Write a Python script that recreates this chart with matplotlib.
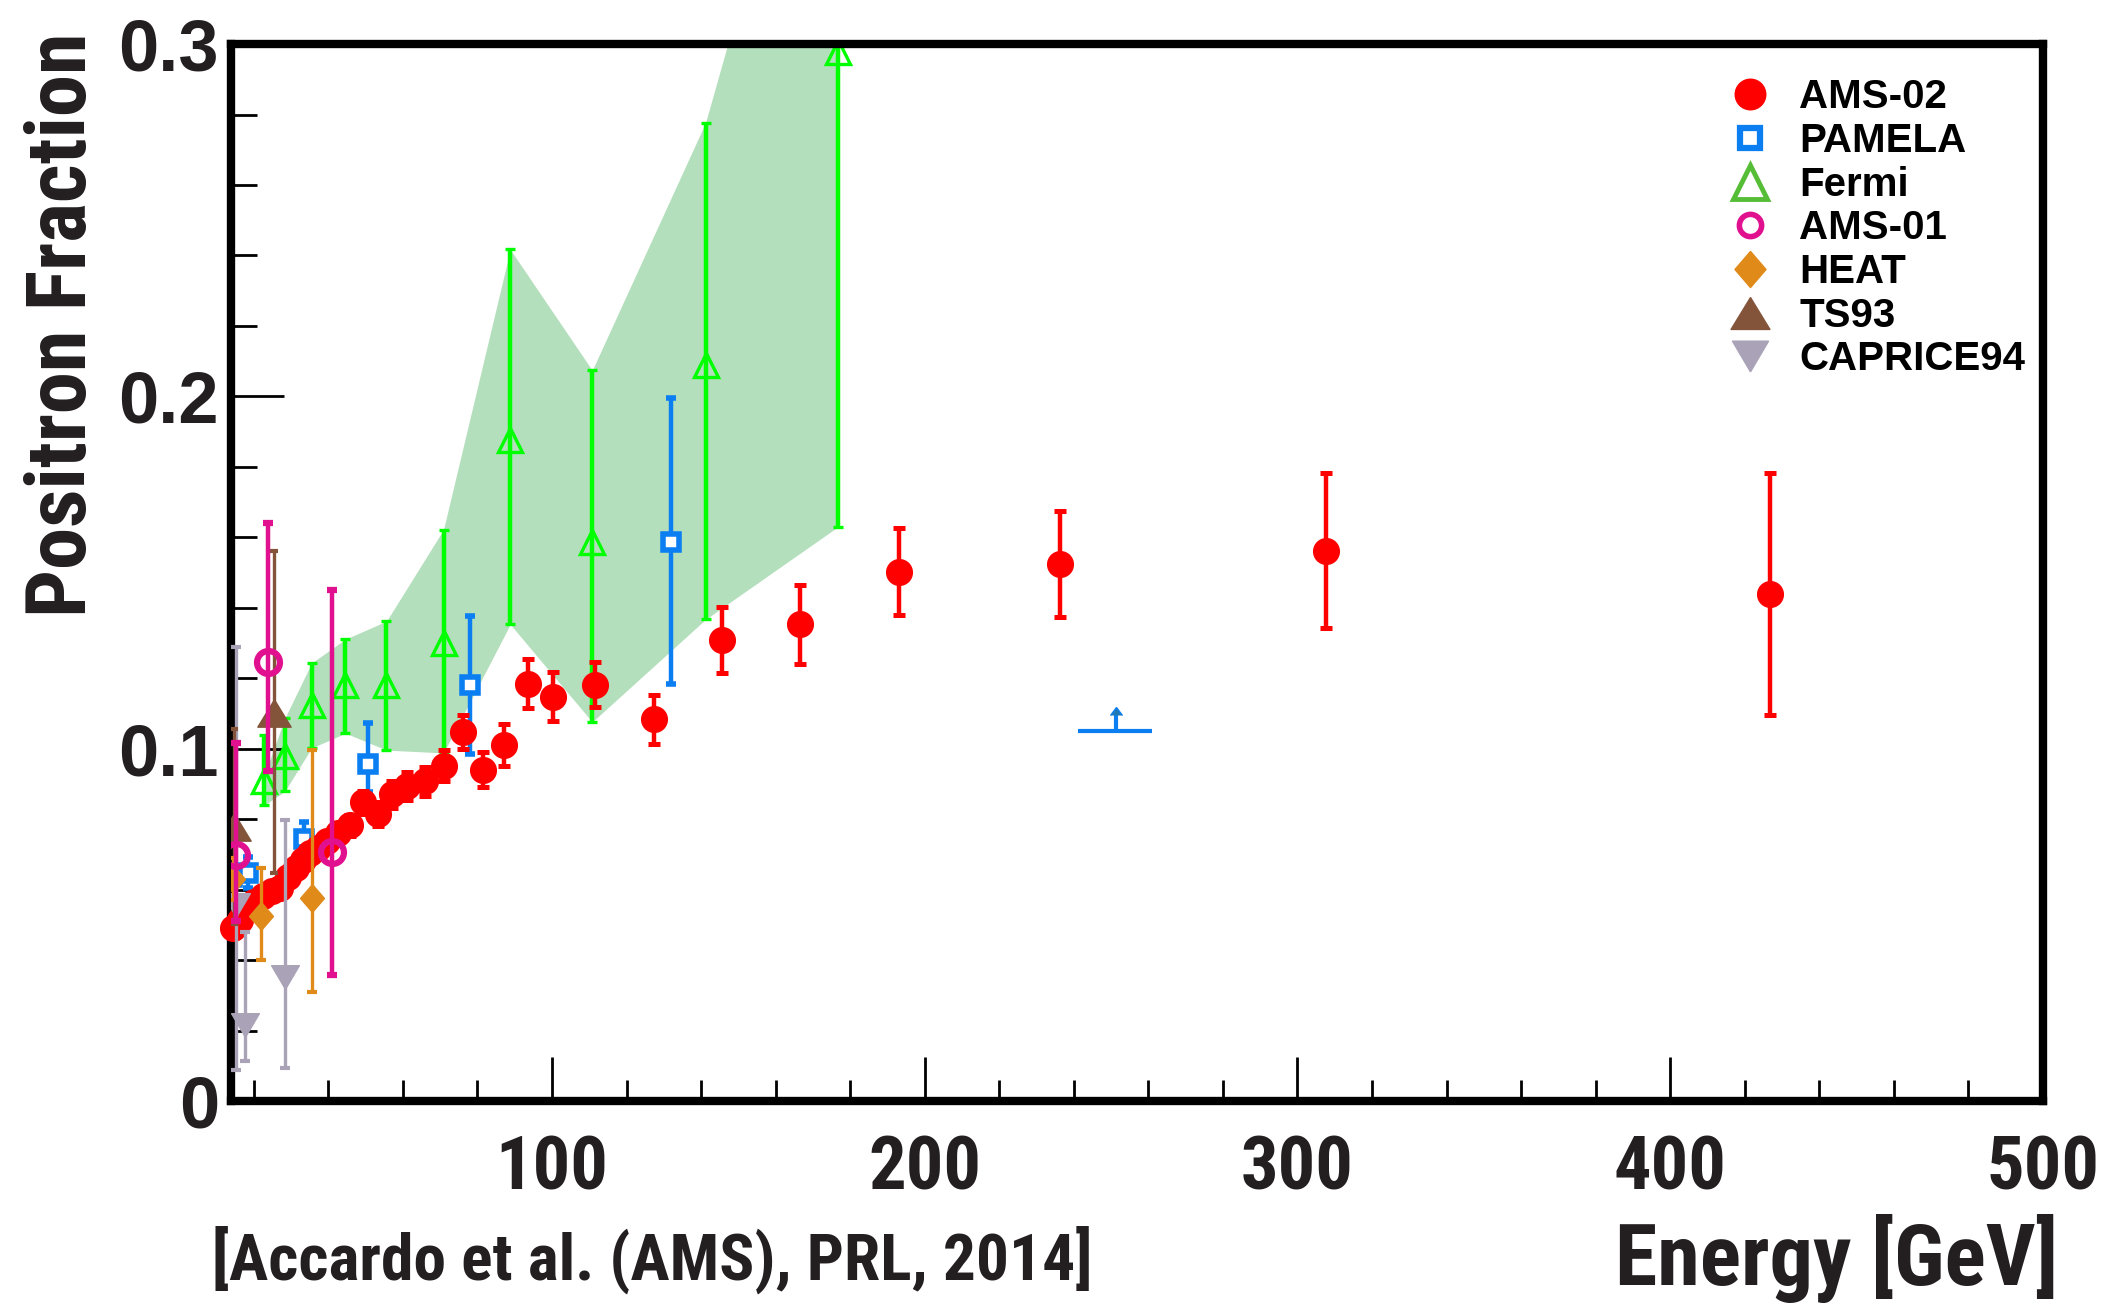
import os
import matplotlib
matplotlib.use('Agg')
import matplotlib.pyplot as plt
from matplotlib import font_manager as fm
from matplotlib.lines import Line2D
from matplotlib.ticker import MultipleLocator, FuncFormatter

# ---- data (energy in GeV, positron fraction) ----
ams02_e = [14.3, 16.2, 18.0, 20.0, 22.5, 25.0, 27.0, 29.3, 31.4, 33.3, 35.2, 37.3,
           39.6, 42.6, 45.8, 49.4, 53.2, 57.2, 61.0, 65.9, 70.9, 76.1, 81.5, 87.0,
           93.5, 100.3, 111.6, 127.5, 145.5, 166.5, 193.0, 236.4, 307.7, 426.7]
ams02_f = [0.049, 0.0515, 0.0544, 0.0565, 0.0581, 0.0595, 0.0605, 0.0635, 0.0662,
           0.0684, 0.0705, 0.0718, 0.0738, 0.0762, 0.0783, 0.0848, 0.0815, 0.0870,
           0.0895, 0.0907, 0.0951, 0.1047, 0.0940, 0.1010, 0.1185, 0.1148, 0.1182,
           0.1083, 0.1309, 0.1353, 0.1502, 0.1525, 0.1562, 0.1439]
ams02_err = [0.0015, 0.0015, 0.0015, 0.0016, 0.0017, 0.0018, 0.0019, 0.002, 0.0021,
             0.0022, 0.0023, 0.0024, 0.0026, 0.0028, 0.003, 0.0033, 0.0035, 0.0038,
             0.004, 0.0042, 0.0044, 0.0048, 0.005, 0.006, 0.007, 0.007, 0.0065,
             0.007, 0.0093, 0.0112, 0.0123, 0.015, 0.022, 0.0344]

pamela_e = [14.2, 18.5, 33.6, 50.7, 78.0, 131.9]
pamela_f = [0.0635, 0.0648, 0.0745, 0.0956, 0.1182, 0.1586]
pamela_lo = [0.0605, 0.0606, 0.0695, 0.0876, 0.0984, 0.1185]
pamela_hi = [0.0665, 0.0694, 0.0792, 0.1072, 0.1376, 0.1994]
# PAMELA lower limit above 200 GeV
pamela_lim_e = 251.4
pamela_lim_f = 0.1051
pamela_lim_xlo = 241.2
pamela_lim_xhi = 260.9

fermi_e = [22.7, 28.3, 35.5, 44.6, 55.6, 70.9, 88.8, 110.8, 141.2, 176.6]
fermi_f = [0.0909, 0.0979, 0.1124, 0.118, 0.118, 0.130, 0.1877, 0.1586, 0.2089, 0.2978]
fermi_lo = [0.0839, 0.0879, 0.1002, 0.1044, 0.0996, 0.0988, 0.1353, 0.1076, 0.1367, 0.1629]
fermi_hi = [0.104, 0.1086, 0.1243, 0.1311, 0.1362, 0.1622, 0.2417, 0.2074, 0.2777, 0.43]
fermi_band_hi = [0.092, 0.1086, 0.1243, 0.1311, 0.1362, 0.1622, 0.2417, 0.2074, 0.2777, 0.41]

ams01_e = [15.1, 23.8, 41.1]
ams01_f = [0.0698, 0.1245, 0.0706]
ams01_lo = [0.0511, 0.0937, 0.0359]
ams01_hi = [0.1016, 0.164, 0.1451]

heat_e = [14.5, 21.8, 35.5]
heat_f = [0.0630, 0.0526, 0.0575]
heat_lo = [0.0571, 0.0401, 0.031]
heat_hi = [0.0689, 0.0661, 0.0996]

ts93_e = [14.8, 25.4]
ts93_f = [0.0778, 0.110]
ts93_lo = [0.0502, 0.0647]
ts93_hi = [0.1057, 0.156]

caprice_e = [15.3, 17.6, 28.3]
caprice_f = [0.0556, 0.0217, 0.0353]
caprice_lo = [0.0087, 0.0114, 0.0095]
caprice_hi = [0.129, 0.0479, 0.0797]

labels = ['AMS-02', 'PAMELA', 'Fermi', 'AMS-01', 'HEAT', 'TS93', 'CAPRICE94']

RED = '#ff0000'
BLUE = '#0b7ff2'
GREEN = '#00ff00'
GREEN_LEG = '#56bd36'
BAND = '#b4dfbc'
MAGENTA = '#e0108f'
ORANGE = '#e08a1a'
BROWN = '#83543a'
GREY = '#aaa3b8'
INK = '#231f20'

WIDE = ['Liberation Sans', 'DejaVu Sans']

# custom marker shapes
diamond = [(0, 1), (0.86, 0), (0, -1), (-0.86, 0), (0, 1)]
tri_up = [(0, 0.82), (1, -0.82), (-1, -0.82), (0, 0.82)]
tri_down = [(0, -0.85), (1, 0.85), (-1, 0.85), (0, -0.85)]


def narrow_font():
    # the axis texts are set in a condensed bold face; use one if there is one
    files = [f.fname for f in fm.fontManager.ttflist]
    prefs = ['LiberationSansNarrow-Bold.', 'RobotoCondensed-Bold.', 'NotoSans-CondensedBold.',
             'OpenSans-CondensedBold.', 'DejaVuSansCondensed-Bold.']
    for p in prefs:
        for f in files:
            if os.path.basename(f).startswith(p):
                return fm.FontProperties(fname=f)
    for f in files:
        b = os.path.basename(f)
        if ('Condensed' in b or 'Narrow' in b) and 'Bold' in b and 'Italic' not in b:
            return fm.FontProperties(fname=f)
    return fm.FontProperties(family='Liberation Sans', weight='bold')


NARROW = narrow_font()


def yerr(f, lo, hi):
    return [[a - b for a, b in zip(f, lo)], [c - a for a, c in zip(f, hi)]]


fig = plt.figure(figsize=(21.02, 13.07), dpi=100)
ax = fig.add_axes([0.1101, 0.1576, 0.8618, 0.8087])

# Fermi band
ax.fill_between(fermi_e, fermi_lo, fermi_band_hi, color=BAND, lw=0, zorder=1)

ax.errorbar(fermi_e, fermi_f, yerr=yerr(fermi_f, fermi_lo, fermi_hi), fmt='^',
            ms=17, mfc='none', mec=GREEN, mew=2.4, ecolor=GREEN, elinewidth=3.2,
            capsize=3.6, capthick=3.5, zorder=2)

ax.errorbar(pamela_e, pamela_f, yerr=yerr(pamela_f, pamela_lo, pamela_hi), fmt='s',
            ms=12, mfc='white', mec=BLUE, mew=4, ecolor=BLUE, elinewidth=3.2,
            capsize=3.6, capthick=3.5, zorder=3)
ax.errorbar([pamela_lim_e], [pamela_lim_f],
            xerr=[[pamela_lim_e - pamela_lim_xlo], [pamela_lim_xhi - pamela_lim_e]],
            fmt='none', ecolor=BLUE, elinewidth=3, capsize=0, zorder=3)
ax.errorbar([pamela_lim_e], [pamela_lim_f], yerr=[0.0045], lolims=True,
            fmt='none', ecolor=BLUE, elinewidth=3, capsize=4, zorder=3)

ax.errorbar(ams02_e, ams02_f, yerr=ams02_err, fmt='o', ms=18.5, color=RED,
            ecolor=RED, elinewidth=3.2, capsize=4, capthick=3.6, zorder=4,
            clip_on=False)

ax.errorbar(caprice_e, caprice_f, yerr=yerr(caprice_f, caprice_lo, caprice_hi),
            fmt='none', ecolor=GREY, elinewidth=2.4, capsize=3.6, capthick=3, zorder=5)
ax.plot(caprice_e, caprice_f, ls='none', marker=tri_down, ms=20, color=GREY, zorder=5)

ax.errorbar(ts93_e, ts93_f, yerr=yerr(ts93_f, ts93_lo, ts93_hi), fmt='none',
            ecolor=BROWN, elinewidth=2.4, capsize=3, capthick=3, zorder=6)
ax.plot(ts93_e, ts93_f, ls='none', marker=tri_up, ms=24, color=BROWN, zorder=6)

ax.errorbar(heat_e, heat_f, yerr=yerr(heat_f, heat_lo, heat_hi), fmt='none',
            ecolor=ORANGE, elinewidth=2.4, capsize=3.6, capthick=3, zorder=7)
ax.plot(heat_e, heat_f, ls='none', marker=diamond, ms=20, color=ORANGE, zorder=7)

ax.errorbar(ams01_e, ams01_f, yerr=yerr(ams01_f, ams01_lo, ams01_hi), fmt='o',
            ms=16.5, mfc='none', mec=MAGENTA, mew=4.5, ecolor=MAGENTA, elinewidth=3.2,
            capsize=3.6, capthick=3.5, zorder=8)

# axes
ax.set_xlim(14, 500)
ax.set_ylim(0, 0.3)
for s in ax.spines.values():
    s.set_linewidth(6)

ax.xaxis.set_major_locator(MultipleLocator(100))
ax.xaxis.set_minor_locator(MultipleLocator(20))
ax.yaxis.set_major_locator(MultipleLocator(0.1))
ax.yaxis.set_minor_locator(MultipleLocator(0.02))
ax.yaxis.set_major_formatter(FuncFormatter(lambda v, p: '%g' % round(v, 2)))

ax.tick_params(axis='both', which='both', direction='in', top=False, right=False,
               width=2, color='black')
ax.tick_params(axis='y', which='major', length=38, pad=9)
ax.tick_params(axis='y', which='minor', length=19)
ax.tick_params(axis='x', which='major', length=32, pad=24)
ax.tick_params(axis='x', which='minor', length=15)

# legend
handles = [
    Line2D([], [], ls='none', marker='o', ms=22, color=RED),
    Line2D([], [], ls='none', marker='s', ms=14, mfc='white', mec=BLUE, mew=4.5),
    Line2D([], [], ls='none', marker='^', ms=25, mfc='none', mec=GREEN_LEG, mew=3.5),
    Line2D([], [], ls='none', marker='o', ms=16, mfc='none', mec=MAGENTA, mew=4),
    Line2D([], [], ls='none', marker=diamond, ms=26, color=ORANGE),
    Line2D([], [], ls='none', marker=tri_up, ms=28, color=BROWN),
    Line2D([], [], ls='none', marker=tri_down, ms=26, color=GREY),
]
leg = ax.legend(handles, labels, loc='upper left', bbox_to_anchor=(0.823, 0.940),
                bbox_transform=fig.transFigure, frameon=False, borderpad=0,
                borderaxespad=0, handlelength=1.0, handletextpad=0.72,
                labelspacing=0.14, prop={'family': WIDE, 'weight': 'bold', 'size': 29})

ylab = fig.text(0.0304, 0.7513, 'Positron Fraction', rotation=90, ha='center',
                va='center', fontproperties=NARROW, color=INK)
xlab = fig.text(0.979, 0.0165, 'Energy [GeV]', ha='right', va='baseline',
                fontproperties=NARROW, color=INK)
cite = fig.text(0.1009, 0.0207, '[Accardo et al. (AMS), PRL, 2014]', ha='left',
                va='baseline', fontproperties=NARROW, color=INK)

fig.canvas.draw()
renderer = fig.canvas.get_renderer()


def fit(text, length_px, max_size, vertical=False):
    # largest size up to max_size whose rendered length fits the reference
    text.set_fontsize(max_size)
    bb = text.get_window_extent(renderer)
    n = bb.height if vertical else bb.width
    if n > length_px:
        text.set_fontsize(max_size * length_px / n)
    return text.get_fontsize()


fit(ylab, 584, 66, vertical=True)
fit(xlab, 443, 62)
fit(cite, 881, 52)

probe = [t for t in ax.get_xticklabels() if t.get_text() == '100'][0]
probe.set_fontproperties(NARROW)
xsize = fit(probe, 113, 62)
for t in ax.get_xticklabels():
    t.set_fontproperties(NARROW)
    t.set_fontsize(xsize)
    t.set_color(INK)
for t in ax.get_yticklabels():
    t.set_fontfamily(WIDE)
    t.set_fontweight('bold')
    t.set_fontsize(52)
    t.set_color(INK)

fig.savefig('out.png', dpi=100)
